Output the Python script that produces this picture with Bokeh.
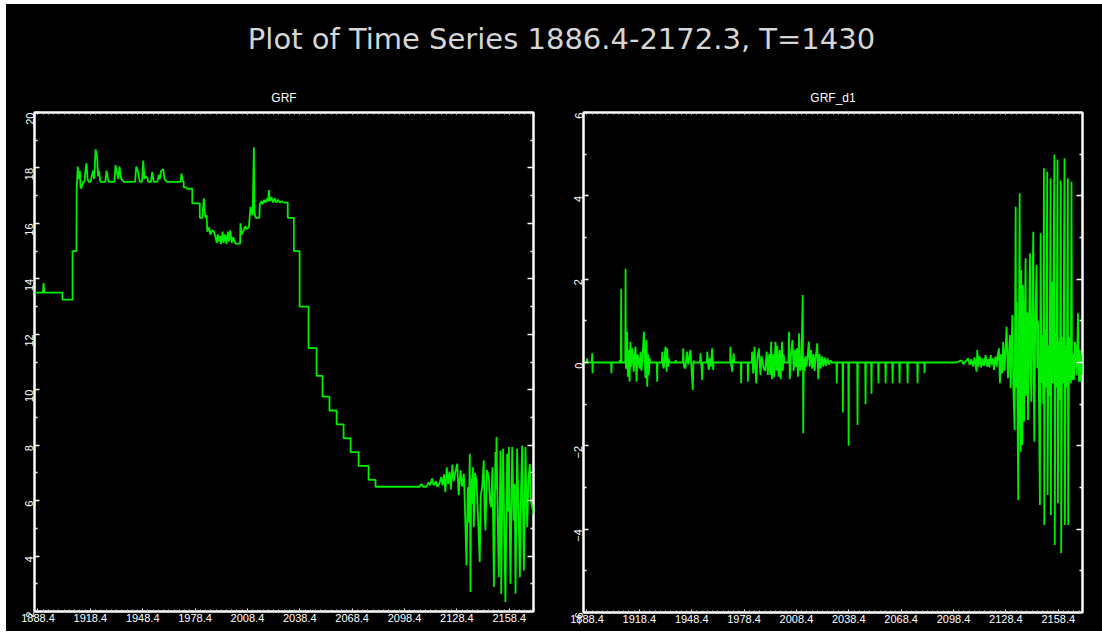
import math
from bokeh.plotting import figure
from bokeh.layouts import column, row
from bokeh.models import (FixedTicker, LinearAxis, Range1d, Label,
                          NumeralTickFormatter)
from bokeh.embed import file_html
from bokeh.resources import INLINE

# ---------------- data ----------------
main_title = "Plot of Time Series 1886.4-2172.3, T=1430"
panel_titles = ["GRF", "GRF_d1"]

x_tick_values = [1888.4, 1918.4, 1948.4, 1978.4, 2008.4, 2038.4, 2068.4, 2098.4, 2128.4, 2158.4]
x_tick_labels = ["1888.4", "1918.4", "1948.4", "1978.4", "2008.4", "2038.4", "2068.4", "2098.4", "2128.4", "2158.4"]
grf_y_ticks = [2, 4, 6, 8, 10, 12, 14, 16, 18, 20]
d1_y_ticks = [-6, -4, -2, 0, 2, 4, 6]

grf_t = [1886.4, 1891.2, 1891.6, 1892.0, 1902.4, 1902.4, 1908.2, 1908.2, 1910.4, 1910.6,
         1911.2, 1911.8, 1912.4, 1912.8, 1913.4, 1914.3, 1915.0, 1915.6, 1916.2, 1916.8,
         1917.5, 1918.6, 1919.2, 1920.0, 1920.6, 1921.4, 1922.3, 1922.8, 1923.2, 1924.2,
         1927.0, 1927.7, 1928.4, 1929.0, 1932.2, 1932.8, 1933.8, 1934.4, 1935.1, 1936.1,
         1937.6, 1944.0, 1944.7, 1945.6, 1946.7, 1948.0, 1948.7, 1949.4, 1950.0, 1951.0,
         1951.6, 1953.2, 1953.8, 1954.8, 1956.8, 1957.6, 1958.2, 1959.0, 1960.2, 1960.9,
         1962.4, 1970.1, 1970.6, 1971.2, 1971.6, 1971.9, 1971.9, 1973.4, 1973.8, 1976.8,
         1976.8, 1981.1, 1981.1, 1982.6, 1983.4, 1984.0, 1984.4, 1985.0, 1985.4, 1986.4,
         1987.2, 1988.2, 1989.2, 1990.1, 1990.8, 1991.4, 1992.0, 1992.8, 1993.4, 1994.2,
         1994.8, 1995.6, 1996.4, 1997.2, 1997.8, 1998.6, 1999.4, 2000.2, 2001.6, 2004.2,
         2004.4, 2005.0, 2006.3, 2007.0, 2008.0, 2009.2, 2010.2, 2010.8, 2011.4, 2012.1,
         2012.4, 2013.1, 2015.2, 2015.5, 2016.4, 2017.2, 2018.0, 2018.8, 2019.6, 2020.2,
         2020.7, 2021.2, 2022.2, 2023.0, 2024.0, 2025.0, 2026.0, 2027.0, 2028.2, 2029.2,
         2031.5, 2031.5, 2035.0, 2035.0, 2038.3, 2038.3, 2043.4, 2043.4, 2048.0, 2048.0,
         2051.4, 2051.4, 2055.4, 2055.4, 2059.5, 2059.5, 2063.5, 2063.5, 2067.5, 2067.5,
         2072.1, 2072.1, 2077.8, 2077.8, 2081.8, 2081.8, 2107.0, 2108.0, 2109.0, 2111.0,
         2112.0, 2113.0, 2114.2, 2115.0, 2116.4, 2117.2, 2118.4, 2119.4, 2120.2, 2121.0,
         2121.8, 2122.6, 2123.4, 2124.2, 2125.0, 2125.8, 2126.6, 2127.4, 2128.6, 2129.4,
         2130.5, 2131.4, 2132.4, 2133.0, 2133.9, 2134.7, 2135.2, 2135.8, 2136.2, 2136.6,
         2137.1, 2137.6, 2138.1, 2138.8, 2139.6, 2140.4, 2141.5, 2142.1, 2142.9, 2143.8,
         2144.3, 2144.8, 2145.6, 2146.7, 2147.3, 2148.0, 2148.8, 2149.6, 2150.5, 2150.8,
         2151.1, 2151.8, 2152.4, 2153.4, 2153.8, 2154.4, 2154.9, 2155.6, 2156.2, 2157.2,
         2157.7, 2158.2, 2159.1, 2160.1, 2161.0, 2161.5, 2162.0, 2162.9, 2163.6, 2164.5,
         2165.2, 2165.8, 2166.3, 2166.8, 2167.7, 2168.2, 2168.7, 2169.4, 2170.2, 2170.8,
         2171.5, 2172.3]
grf_v = [13.5, 13.5, 13.85, 13.5, 13.5, 13.25, 13.25, 15.0, 15.0, 17.3,
         18.05, 17.6, 17.9, 17.26, 17.3, 17.5, 17.5, 17.9, 18.17, 17.6,
         17.5, 17.5, 17.7, 17.9, 17.6, 18.67, 18.39, 17.7, 17.9, 17.5,
         17.5, 17.9, 17.6, 17.5, 17.5, 18.1, 17.8, 17.6, 18.05, 17.6,
         17.5, 17.5, 18.05, 17.9, 17.5, 17.5, 18.27, 17.6, 17.7, 17.65,
         17.5, 17.5, 17.85, 17.5, 17.5, 17.75, 17.6, 17.9, 17.95, 17.6,
         17.5, 17.5, 17.8, 17.6, 17.5, 17.5, 17.3, 17.3, 17.25, 17.25,
         16.72, 16.72, 16.2, 16.2, 16.9, 16.4, 16.2, 16.3, 15.7, 15.85,
         15.6, 15.75, 15.7, 15.5, 15.3, 15.6, 15.35, 15.55, 15.25, 15.7,
         15.3, 15.6, 15.25, 15.7, 15.35, 15.75, 15.3, 15.5, 15.27, 15.27,
         16.0, 15.6, 15.75, 15.9, 15.8, 15.85, 16.6, 16.4, 16.3, 18.75,
         16.4, 16.2, 16.2, 16.7, 16.8, 16.7, 16.85, 16.75, 16.9, 16.8,
         17.2, 16.8, 16.95, 16.75, 16.9, 16.75, 16.85, 16.75, 16.8, 16.75,
         16.75, 16.2, 16.2, 15.0, 15.0, 13.0, 13.0, 11.5, 11.5, 10.5,
         10.5, 9.75, 9.75, 9.25, 9.25, 8.75, 8.75, 8.25, 8.25, 7.75,
         7.75, 7.25, 7.25, 6.75, 6.75, 6.5, 6.5, 6.6, 6.5, 6.5,
         6.65, 6.55, 6.8, 6.55, 6.7, 6.5, 6.6, 6.85, 6.55, 6.95,
         6.3, 7.2, 6.6, 7.05, 6.4, 7.3, 6.7, 7.0, 7.33, 6.2,
         7.09, 6.5, 6.97, 5.8, 3.66, 6.48, 5.2, 7.69, 2.70, 6.8,
         5.88, 7.2, 5.04, 7.0, 6.73, 5.6, 3.78, 6.2, 6.49, 7.45,
         5.5, 4.92, 7.1, 6.85, 6.0, 5.76, 7.2, 2.88, 7.75, 6.4,
         8.29, 5.4, 3.24, 7.81, 2.64, 6.2, 7.87, 4.8, 2.34, 7.69,
         5.6, 7.93, 3.00, 7.93, 5.28, 6.6, 2.64, 7.87, 6.0, 3.24,
         6.5, 7.99, 5.6, 3.48, 7.93, 6.2, 5.04, 6.8, 7.33, 6.0,
         5.76, 5.5]

d1_t = [1886.4, 1888.3, 1888.5, 1888.7, 1891.2, 1891.4, 1891.6, 1891.8,
        1902.2, 1902.4, 1902.6, 1907.0, 1907.2, 1907.4, 1907.8, 1908.0, 1908.2,
        1910.3, 1910.5, 1910.7, 1911.0, 1911.4, 1911.8, 1912.2, 1912.8, 1913.3, 1913.7,
        1914.3, 1914.8, 1915.2, 1915.7, 1916.2, 1916.8, 1917.4, 1918.1, 1918.6, 1919.1,
        1919.6, 1920.2, 1921.0, 1921.9, 1922.5, 1922.9, 1923.4, 1923.8, 1924.2, 1924.8,
        1928.4, 1928.6, 1928.8, 1931.3, 1931.5, 1932.0, 1932.4, 1933.0, 1933.4, 1934.0,
        1934.3, 1934.8, 1935.3, 1935.6, 1939.0, 1939.2, 1939.4,
        1943.3, 1943.5, 1944.0, 1944.8, 1945.3, 1945.8, 1946.4, 1947.7, 1948.2, 1949.0,
        1949.4, 1949.6, 1953.2, 1953.4, 1954.0, 1954.4, 1954.6, 1957.1, 1957.3, 1957.8,
        1958.2, 1958.8, 1959.4, 1960.1, 1960.7, 1960.9,
        1970.4, 1970.6, 1970.8, 1971.6, 1971.8, 1972.5, 1972.7, 1976.5, 1976.7, 1976.9,
        1980.4, 1980.6, 1980.8,
        1982.8, 1983.0, 1983.6, 1984.4, 1984.8, 1985.4, 1986.0, 1986.9, 1987.8, 1988.4,
        1989.7, 1990.5, 1991.4, 1992.0, 1992.8, 1993.4, 1993.9, 1994.4, 1995.0, 1995.6,
        1996.4, 1997.0, 1997.4, 1998.2, 1998.8, 1999.4, 2000.1, 2000.6, 2001.0, 2001.6,
        2003.8, 2004.1, 2004.6, 2005.2, 2006.1, 2006.8, 2007.5, 2008.0, 2008.6, 2009.3,
        2009.9, 2010.5, 2011.2, 2012.0, 2012.3, 2012.6, 2013.1, 2013.6, 2014.2, 2014.9,
        2015.5, 2016.0, 2016.8, 2017.4, 2018.2, 2018.8, 2019.4, 2020.3, 2020.9, 2021.6,
        2022.3, 2023.0, 2023.8, 2024.6, 2025.4, 2026.2, 2027.0, 2028.0, 2028.6,
        2031.3, 2031.5, 2031.7, 2034.8, 2035.0, 2035.2, 2038.1, 2038.3, 2038.5,
        2043.2, 2043.4, 2043.6, 2047.8, 2048.0, 2048.2, 2051.2, 2051.4, 2051.6,
        2055.2, 2055.4, 2055.6, 2059.3, 2059.5, 2059.7, 2063.3, 2063.5, 2063.7,
        2067.3, 2067.5, 2067.7, 2071.9, 2072.1, 2072.3, 2077.6, 2077.8, 2078.0,
        2081.6, 2081.8, 2082.0,
        2100.0, 2103.0, 2104.0, 2106.8, 2107.6, 2108.6, 2109.6, 2110.4, 2111.0, 2111.6,
        2112.0, 2112.6, 2113.4, 2114.2, 2115.0, 2115.8, 2116.8, 2117.6, 2118.4, 2119.0,
        2119.7, 2120.4, 2121.0, 2121.6, 2122.4, 2123.2, 2123.8, 2124.4, 2125.0, 2125.6,
        2126.3, 2126.9, 2127.6, 2128.2, 2128.8, 2129.6, 2130.2, 2130.7, 2131.1, 2131.6,
        2132.1, 2132.6, 2133.4, 2134.0, 2134.3, 2134.6, 2135.0, 2135.5, 2135.9, 2136.3,
        2136.6, 2136.9, 2137.2, 2137.5, 2137.8, 2138.2, 2138.5, 2138.8, 2139.2, 2139.7,
        2140.0, 2140.3, 2140.7, 2141.1, 2141.6, 2142.2, 2142.6, 2143.0, 2143.5, 2144.1,
        2144.4, 2144.7, 2145.2, 2146.0, 2146.4, 2146.8, 2147.3, 2147.9, 2148.3, 2148.8,
        2149.3, 2149.8, 2150.2, 2150.4, 2150.8, 2151.4, 2152.1, 2152.3, 2152.8, 2153.4,
        2154.0, 2154.2, 2154.6, 2155.2, 2156.2, 2156.4, 2156.9, 2157.4, 2158.0, 2158.2,
        2158.7, 2159.3, 2159.9, 2160.1, 2160.6, 2161.3, 2162.0, 2162.2, 2162.7, 2163.3,
        2163.9, 2164.1, 2164.6, 2165.1, 2165.6, 2166.0, 2166.3, 2166.9, 2167.4, 2168.0,
        2168.4, 2169.0, 2169.7, 2170.3, 2170.8, 2171.2, 2171.8, 2172.3]
d1_v = [0, 0, 0.1, 0, 0, 0.22, -0.26, 0,
        0, -0.26, 0, 0, 0.06, 0, 0, 1.77, 0,
        0, 2.25, -0.15, 0.45, 0.74, -0.34, 0.3, -0.46, 0.5, -0.1,
        0.34, 0.05, -0.22, 0.15, 0.38, -0.46, 0.2, 0, -0.15, 0.26,
        -0.2, 0.1, 0.74, -0.38, 0.54, -0.58, 0.2, -0.3, 0.1, 0,
        0, -0.46, 0, 0, 0.26, -0.1, -0.14, 0.2, 0.38, -0.22,
        0.34, -0.1, 0.1, 0, 0, 0.06, 0,
        0, 0.34, -0.1, -0.14, 0.1, 0.26, -0.05, 0.3, -0.1, -0.66,
        0.05, 0, 0, 0.22, -0.1, -0.42, 0, 0, 0.26, -0.05,
        -0.18, 0.1, -0.1, 0.34, -0.18, 0,
        0, 0.38, 0, -0.22, 0, 0.22, 0, 0, -0.5, 0,
        0, -0.46, 0,
        0, 0.26, -0.26, 0.38, -0.1, -0.5, 0.1, 0.34, -0.3, 0.15,
        -0.15, -0.2, 0.26, -0.3, 0.2, -0.3, 0.5, -0.4, 0.2, -0.35,
        0.5, -0.2, 0.4, -0.34, 0.3, -0.4, 0.5, -0.2, 0.2, 0,
        0, 0.74, -0.4, 0.15, 0.54, -0.2, 0.3, -0.1, 0.34, -0.34,
        0.7, -0.2, -0.1, 1.62, -1.7, 0.1, -0.2, 0.15, -0.1, 0.2,
        0.5, -0.1, 0.3, -0.15, 0.2, -0.2, 0.1, 0.46, -0.4, 0.2,
        -0.15, 0.15, -0.1, 0.12, -0.08, 0.1, -0.05, 0.05, 0,
        0, -0.5, 0, 0, -1.2, 0, 0, -2.0, 0,
        0, -1.5, 0, 0, -1.0, 0, 0, -0.75, 0,
        0, -0.5, 0, 0, -0.5, 0, 0, -0.5, 0,
        0, -0.5, 0, 0, -0.5, 0, 0, -0.5, 0,
        0, -0.25, 0,
        0, 0.05, -0.04, 0.1, -0.06, 0.08, -0.1, 0.12, -0.05, -0.22,
        0.3, -0.1, 0.15, -0.12, 0.1, -0.08, 0.18, -0.1, 0.08, -0.12,
        0.18, -0.05, 0.1, -0.18, 0.15, -0.1, 0.2, 0.34, -0.5, 0.2,
        -0.26, 0.5, -0.2, 0.3, 0.86, -0.38, 0.2, 0.66, -0.62, 0.3,
        1.14, -0.5, -1.62, 3.74, -0.6, 1.46, -0.8, -3.3, 1.0, 4.06,
        -1.0, -2.14, 2.22, -0.5, -1.98, 1.86, 0.3, -1.42, 1.0, 2.5,
        -0.8, -0.46, 1.2, -1.38, 0.6, 2.62, -0.3, -0.94, 1.2, 3.14,
        -0.6, -1.9, 0.9, 2.34, -0.14, 1.0, -0.7, -3.42, 3.1, -0.5,
        0.66, -1.0, 4.66, -3.9, 0.8, -0.6, 4.58, -3.18, 0.4, -0.8,
        4.42, -3.66, 1.94, -0.5, 4.99, -4.38, 0.7, -0.6, 4.87, -3.38,
        0.5, -0.9, 4.37, -4.58, 0.6, -0.5, 4.9, -3.9, 0.4, -0.6,
        4.42, -3.9, 0.6, 0.34, -0.5, 4.34, -0.42, 0.2, -0.42, 0.5,
        0.34, -0.3, 1.18, -0.46, 0.3, -0.46, 0.2, -0.3]

# ---------------- styling ----------------
BG = "black"
GREEN = "#00ee00"
LABEL_FONT = "Liberation Sans"
T0, T1 = 1886.4, 2172.3

x_minor = [round(1888.4 + 3 * k, 1) for k in range(-1, 96)]
x_minor = [m for m in x_minor if T0 <= m <= T1]


def make_panel(title, y_lo, y_hi, y_ticks, ts, vs, frame_h, mb_left, mb_right, mb_top):
    p = figure(frame_width=499, frame_height=frame_h,
               min_border_left=mb_left, min_border_right=mb_right,
               min_border_top=mb_top, min_border_bottom=20,
               x_range=Range1d(T0, T1), y_range=Range1d(y_lo, y_hi),
               output_backend="svg", toolbar_location=None,
               background_fill_color=BG, border_fill_color=BG,
               x_axis_type=None, y_axis_type=None)
    p.grid.visible = False
    p.outline_line_color = "white"
    p.outline_line_width = 2.5

    p.title.text = title
    p.title.align = "center"
    p.title.text_color = "white"
    p.title.text_font = LABEL_FONT
    p.title.text_font_style = "normal"
    p.title.text_font_size = "12px"
    p.title.standoff = 15

    y_minor = [v + 1 for v in y_ticks[:-1]]

    def base_axis(ax, ticker):
        ax.ticker = ticker
        ax.axis_line_color = None
        ax.major_tick_out = 0
        ax.minor_tick_out = 0
        ax.major_tick_line_color = "white"
        ax.minor_tick_line_color = "#cccccc"
        ax.major_label_text_color = "white"
        ax.major_label_text_font = LABEL_FONT
        ax.major_label_text_font_size = "10px"

    # bottom axis with labels
    xb = LinearAxis()
    base_axis(xb, FixedTicker(ticks=x_tick_values, minor_ticks=x_minor))
    xb.formatter = NumeralTickFormatter(format="0.0")
    xb.major_label_overrides = dict(zip(x_tick_values, x_tick_labels))
    xb.major_label_text_font_size = "11px"
    xb.major_tick_in = 3
    xb.minor_tick_in = 2
    xb.major_label_standoff = 2
    p.add_layout(xb, "below")

    # top axis (ticks only, no labels)
    xt = LinearAxis(ticker=FixedTicker(ticks=[], minor_ticks=x_minor + x_tick_values))
    base_axis(xt, xt.ticker)
    xt.minor_tick_in = 2
    xt.major_label_standoff = 0
    p.add_layout(xt, "above")

    # left axis with rotated labels
    yl = LinearAxis()
    base_axis(yl, FixedTicker(ticks=y_ticks, minor_ticks=y_minor))
    yl.major_label_text_font_size = "11px"
    yl.major_tick_in = 5
    yl.minor_tick_in = 3
    yl.major_tick_line_width = 1.5
    yl.minor_tick_line_width = 1.5
    yl.minor_tick_line_color = "white"
    yl.major_label_orientation = math.pi / 2
    yl.major_label_standoff = 5
    p.add_layout(yl, "left")

    # right axis (ticks only, no labels): majors shown as longer minor ticks
    yr = LinearAxis(ticker=FixedTicker(ticks=[], minor_ticks=y_ticks[1:-1]))
    base_axis(yr, yr.ticker)
    yr.minor_tick_in = 6
    yr.minor_tick_line_width = 1.5
    yr.minor_tick_line_color = "white"
    yr.major_label_standoff = 0
    p.add_layout(yr, "right")
    yr2 = LinearAxis(ticker=FixedTicker(ticks=[], minor_ticks=y_minor))
    base_axis(yr2, yr2.ticker)
    yr2.minor_tick_in = 3
    yr2.minor_tick_line_width = 1.5
    yr2.minor_tick_line_color = "white"
    yr2.major_label_standoff = 0
    p.add_layout(yr2, "right")

    p.line(ts, vs, line_color=GREEN, line_width=1.8)
    return p


p1 = make_panel(panel_titles[0], 2, 20, grf_y_ticks, grf_t, grf_v, 499, 28, 25, 32)
p2 = make_panel(panel_titles[1], -6, 6, d1_y_ticks, d1_t, d1_v, 500, 25, 20, 31)

top = figure(width=1096, height=76, x_range=Range1d(0, 1), y_range=Range1d(0, 1),
             output_backend="svg", toolbar_location=None,
             background_fill_color=BG, border_fill_color=BG,
             x_axis_type=None, y_axis_type=None, min_border=0)
top.grid.visible = False
top.outline_line_color = None
top.add_layout(Label(x=555, y=42, x_units="screen", y_units="screen", text=main_title,
                     text_align="center", text_baseline="middle", text_color="#d6d6d6",
                     text_font="DejaVu Sans", text_font_size="29px"))

layout = column(top, row(p1, p2, spacing=0), spacing=0, margin=(4, 0, 0, 6),
                styles={"background-color": "black"})

open("out.html", "w").write(file_html(layout, INLINE))
